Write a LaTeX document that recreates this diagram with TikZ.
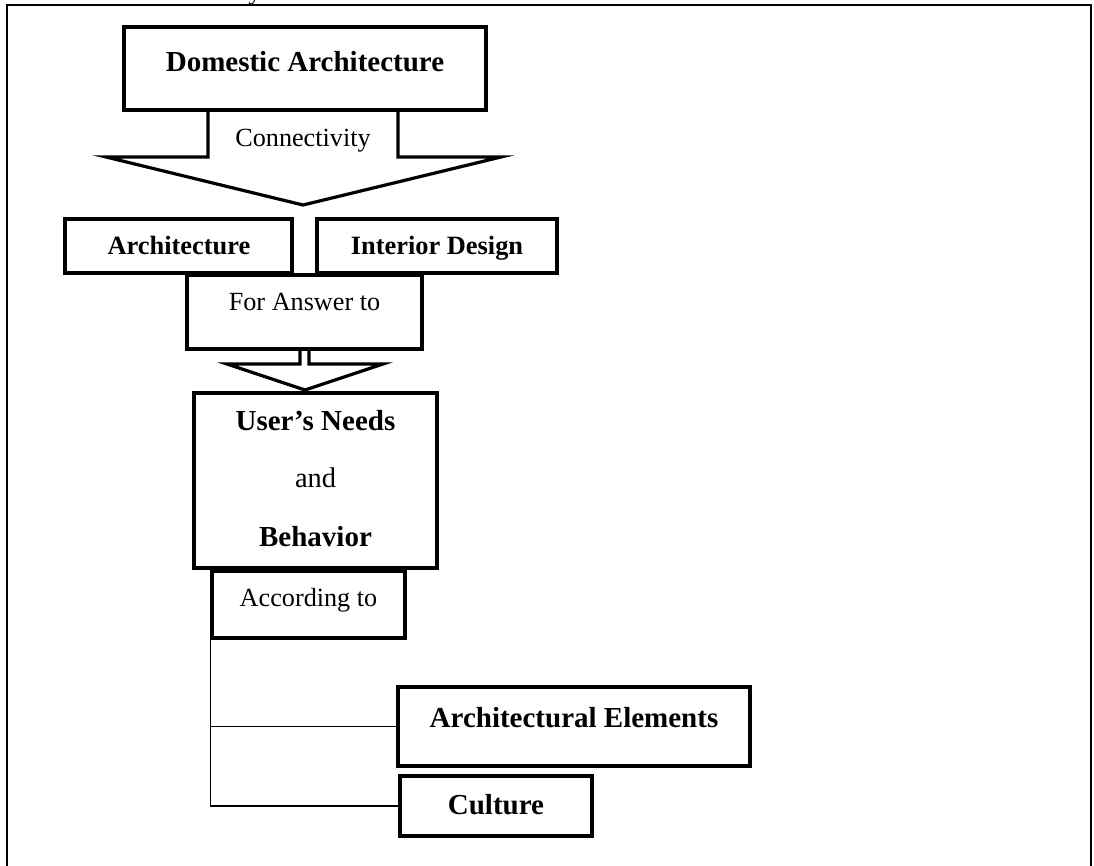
\documentclass[tikz,border=0pt]{standalone}
\usepackage{fontspec}
\setmainfont{Liberation Serif}
\usetikzlibrary{fit}
\begin{document}
\begin{tikzpicture}[x=0.5pt,y=-0.5pt,
  boxshape/.style={draw, line width=1.6pt, inner sep=0pt, fill=white},
  arrowshape/.style={draw, line width=1.6pt, fill=white, line join=miter},
  conn/.style={line width=0.8pt},
  frameline/.style={line width=1.4pt},
  bigb/.style={font=\fontsize{14.5}{17}\selectfont\bfseries, anchor=base, inner sep=0pt},
  midr/.style={font=\fontsize{14.2}{17}\selectfont, anchor=base, inner sep=0pt},
  smallb/.style={font=\fontsize{13.2}{16}\selectfont\bfseries, anchor=base, inner sep=0pt},
  reg/.style={font=\fontsize{13.1}{16}\selectfont, anchor=base, inner sep=0pt},
]
\useasboundingbox (0,0) rectangle (1094,866);
% cut-off caption fragment
\node[reg] (ycut) at (255,0) {y};
% outer frame (open at the bottom)
\draw[frameline] (7,880) -- (7,5) -- (1091,5) -- (1091,880);

% block arrows
\draw[arrowshape] (208,110) -- (208,157) -- (106,157) -- (303,205) -- (501,157) -- (398,157) -- (398,110);
\draw[arrowshape] (300,349) -- (300,364) -- (227,364) -- (305,390) -- (383,364) -- (309,364) -- (309,349);

% boxes
\node[boxshape, fit={(124,27) (486,110)}] (dom) {};
\node[boxshape, fit={(65,219) (292,273)}] (arch) {};
\node[boxshape, fit={(317,219) (557,273)}] (inter) {};
\node[boxshape, fit={(187,275) (422,349)}] (ans) {};
\node[boxshape, fit={(194,393) (437,568)}] (user) {};
\node[boxshape, fit={(212,571) (405,638)}] (acc) {};
\node[boxshape, fit={(398,687) (750,766)}] (elem) {};
\node[boxshape, fit={(400,776) (592,836)}] (cult) {};

% texts
\node[bigb] (tdom) at (305,72) {Domestic Architecture};
\node[reg] (tcon) at (303,147) {Connectivity};
\node[smallb] (tarch) at (179,255) {Architecture};
\node[smallb] (tinter) at (437,255) {Interior Design};
\node[reg] (tans) at (304.5,311) {For Answer to};
\node[bigb] (tuser) at (315.5,431) {User’s Needs};
\node[midr] (tand) at (315.5,488) {and};
\node[bigb] (tbeh) at (315.5,546) {Behavior};
\node[reg] (tacc) at (308.5,606) {According to};
\node[bigb] (telem) at (574,727) {Architectural Elements};
\node[bigb] (tcult) at (496,814) {Culture};

% connectors
\draw[conn] (acc.south west) |- (elem.west);
\draw[conn] (acc.south west) |- (cult.west);
\end{tikzpicture}
\end{document}
